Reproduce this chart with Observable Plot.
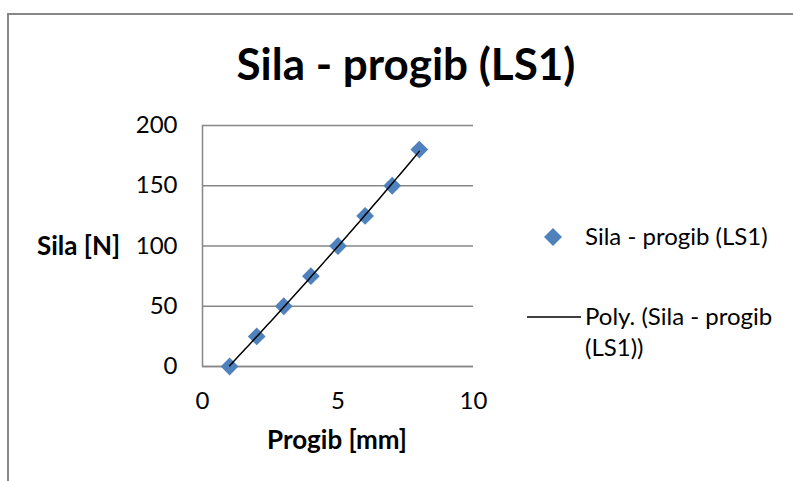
<!DOCTYPE html>
<html><head><meta charset="utf-8">
<script src="https://cdn.jsdelivr.net/npm/d3@7"></script>
<script src="https://cdn.jsdelivr.net/npm/@observablehq/plot@0.6"></script>
<style>
html,body{margin:0;padding:0;background:#fff;overflow:hidden;}
#wrap{position:relative;width:793px;height:481px;overflow:hidden;font-family:Lato,"Open Sans",sans-serif;color:#000;}
#frame{position:absolute;left:7px;top:13px;width:900px;height:600px;border:2px solid #878787;box-sizing:border-box;}
#title{position:absolute;left:0;width:812px;top:41px;text-align:center;font-weight:bold;font-size:44px;line-height:1;white-space:nowrap;}
#ylab{position:absolute;left:37px;top:229px;font-weight:bold;font-size:26px;white-space:nowrap;}
#xlab{position:absolute;left:237px;width:200px;top:423px;text-align:center;font-weight:bold;font-size:26px;white-space:nowrap;}
#chart{position:absolute;left:0;top:0;}
.leg{position:absolute;font-size:24px;line-height:31px;white-space:nowrap;}
.legsym{position:absolute;}
</style></head>
<body><div id="wrap">
<div id="frame"></div>
<div id="chart"></div>
<div id="title"></div>
<div id="ylab"></div>
<div id="xlab"></div>
<svg class="legsym" style="left:543px;top:227px" width="20" height="20"><path d="M10,1L19,10L10,19L1,10Z" fill="#4F81BD"/></svg>
<div class="leg" id="leg1" style="left:585px;top:220px"></div>
<svg class="legsym" style="left:527px;top:312px" width="56" height="10"><line x1="0" y1="5" x2="54" y2="5" stroke="#000" stroke-width="1.5"/></svg>
<div class="leg" id="leg2" style="left:585px;top:300px"></div>
</div>
<script>
const titleText = "Sila - progib (LS1)";
const xTitle = "Progib [mm]";
const yTitle = "Sila [N]";
const seriesName = "Sila - progib (LS1)";
const trendName = ["Poly. (Sila - progib", "(LS1))"];
const progib = [1, 2, 3, 4, 5, 6, 7, 8];
const sila = [0, 25, 50, 75, 100, 125, 150, 180];
const xTicks = [0, 5, 10];
const yTicks = [0, 50, 100, 150, 200];

document.getElementById("title").textContent = titleText;
document.getElementById("xlab").textContent = xTitle;
document.getElementById("ylab").textContent = yTitle;
document.getElementById("leg1").textContent = seriesName;
document.getElementById("leg2").innerHTML = trendName.join("<br>");

const pts = progib.map((x, i) => ({x, y: sila[i]}));

// Polynomial (order 2) least-squares trendline fitted from the data
function polyFit(xs, ys) {
  let n = xs.length, s = [0,0,0,0,0], t = [0,0,0];
  for (let i = 0; i < n; i++) {
    let p = 1;
    for (let k = 0; k < 5; k++) { s[k] += p; if (k < 3) t[k] += p * ys[i]; p *= xs[i]; }
  }
  const A = [[s[0],s[1],s[2],t[0]],[s[1],s[2],s[3],t[1]],[s[2],s[3],s[4],t[2]]];
  for (let c = 0; c < 3; c++) {
    for (let r = c + 1; r < 3; r++) {
      const f = A[r][c] / A[c][c];
      for (let k = c; k < 4; k++) A[r][k] -= f * A[c][k];
    }
  }
  const b = [0,0,0];
  for (let r = 2; r >= 0; r--) {
    let v = A[r][3];
    for (let k = r + 1; k < 3; k++) v -= A[r][k] * b[k];
    b[r] = v / A[r][r];
  }
  return b;
}
const coef = polyFit(progib, sila);
const xmin = d3.min(progib), xmax = d3.max(progib);
const trend = d3.range(0, 61).map(i => {
  const x = xmin + (xmax - xmin) * i / 60;
  return {x, y: coef[0] + coef[1] * x + coef[2] * x * x};
});

const chart = Plot.plot({
  width: 793,
  height: 481,
  marginLeft: 202,
  marginRight: 320,
  marginTop: 125,
  marginBottom: 115,
  style: {fontFamily: "Lato, 'Open Sans', sans-serif", fontSize: "24px", color: "#000", background: "transparent"},
  x: {domain: [0, 10], ticks: xTicks, tickSize: 0, tickPadding: 25, label: null},
  y: {domain: [0, 200], ticks: yTicks, tickSize: 0, tickPadding: 25, label: null},
  marks: [
    Plot.gridY(yTicks, {stroke: "#878787", strokeOpacity: 1, strokeWidth: 1.3}),
    Plot.ruleX([0], {stroke: "#878787", strokeWidth: 1.5}),
    Plot.ruleY([0], {stroke: "#878787", strokeWidth: 1.5}),
    Plot.axisX({ticks: xTicks, tickSize: 0, tickPadding: 25, fontSize: 24}),
    Plot.axisY({ticks: yTicks, tickSize: 0, tickPadding: 25, fontSize: 24}),
    Plot.dot(pts, {x: "x", y: "y", symbol: "diamond2", r: 8, fill: "#4F81BD", stroke: "none"}),
    Plot.line(trend, {x: "x", y: "y", stroke: "#000", strokeWidth: 1.5})
  ]
});
document.getElementById("chart").appendChild(chart);
</script>
</body></html>
